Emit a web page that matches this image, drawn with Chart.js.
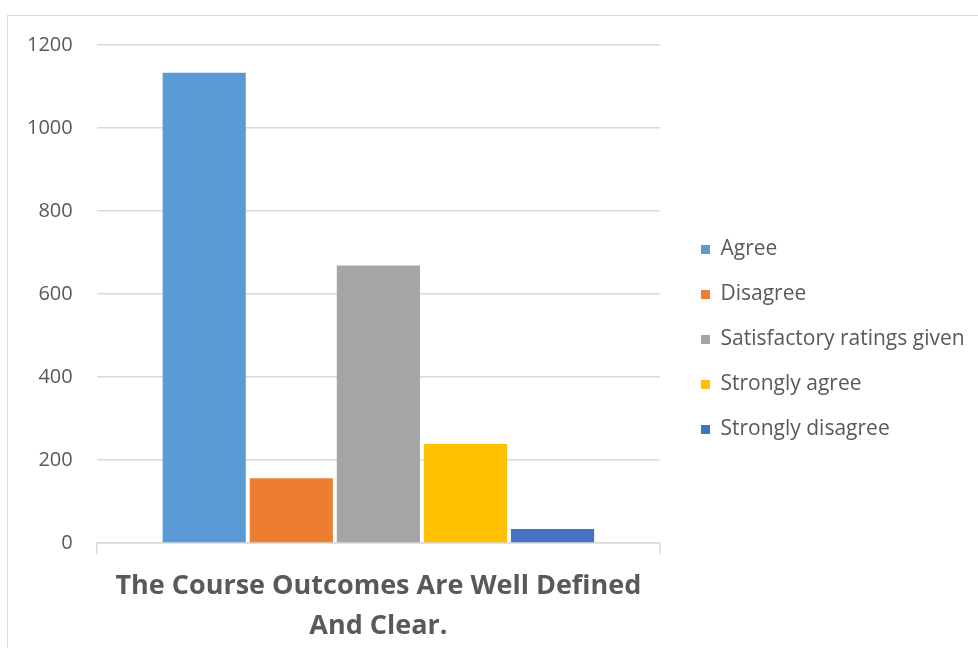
<!DOCTYPE html>
<html>
<head>
<meta charset="utf-8">
<script src="https://cdn.jsdelivr.net/npm/chart.js@4"></script>
<style>
  body { margin: 0; background: #fff; }
  #frame { position: absolute; left: 7px; top: 15px; width: 1000px; height: 700px; border: 1px solid #d9d9d9; }
  #chart { position: absolute; left: 0; top: 0; }
</style>
</head>
<body>
<div id="frame"></div>
<canvas id="chart" width="978" height="648"></canvas>
<script>
// Chart data
const categories = [["The Course Outcomes Are Well Defined", "And Clear."]];
const seriesNames = ["Agree", "Disagree", "Satisfactory ratings given", "Strongly agree", "Strongly disagree"];
const seriesValues = [1133, 156, 669, 239, 34];
const seriesColors = ["#5B9BD5", "#ED7D31", "#A5A5A5", "#FFC000", "#4472C4"];
const yTicks = [0, 200, 400, 600, 800, 1000, 1200];

const textColor = "#595959";
const gridColor = "#d9d9d9";

// nudge legend to where Excel puts it (and let it use the whole right side)
const legendShift = {
    id: "legendShift",
    afterLayout(chart) {
        const l = chart.legend;
        l.left += 17;
        l.right = chart.width;
        l.top -= 12; l.bottom -= 12;
    }
};

const barChart = new Chart(document.getElementById("chart"), {
    type: "bar",
    data: {
        labels: categories,
        datasets: seriesNames.map((name, i) => ({
            label: name,
            data: [seriesValues[i]],
            backgroundColor: seriesColors[i],
            categoryPercentage: 0.773,
            barPercentage: 0.955
        }))
    },
    options: {
        responsive: false,
        animation: false,
        layout: { padding: { left: 3, top: 45, right: 99, bottom: -10 } },
        plugins: {
            tooltip: { enabled: false },
            legend: {
                position: "right",
                labels: {
                    color: textColor,
                    font: { family: "Open Sans", size: 21 },
                    boxWidth: 9,
                    boxHeight: 9,
                    padding: 24
                }
            }
        },
        scales: {
            x: {
                offset: true,
                grid: { offset: true, drawOnChartArea: false, color: gridColor, tickLength: 11, lineWidth: 1.5 },
                border: { color: gridColor, width: 1.5 },
                ticks: {
                    color: textColor,
                    font: { family: "Open Sans", size: 27, weight: "bold", lineHeight: 1.48 },
                    maxRotation: 0,
                    padding: 12
                }
            },
            y: {
                min: yTicks[0],
                max: yTicks[yTicks.length - 1],
                afterBuildTicks: axis => { axis.ticks = yTicks.map(v => ({ value: v })); },
                grid: { color: gridColor, lineWidth: 1.5, drawTicks: false },
                border: { display: false },
                ticks: {
                    color: textColor,
                    font: { family: "Open Sans", size: 20 },
                    padding: 24,
                    callback: v => String(v)
                }
            }
        }
    },
    plugins: [legendShift]
});
</script>
</body>
</html>
